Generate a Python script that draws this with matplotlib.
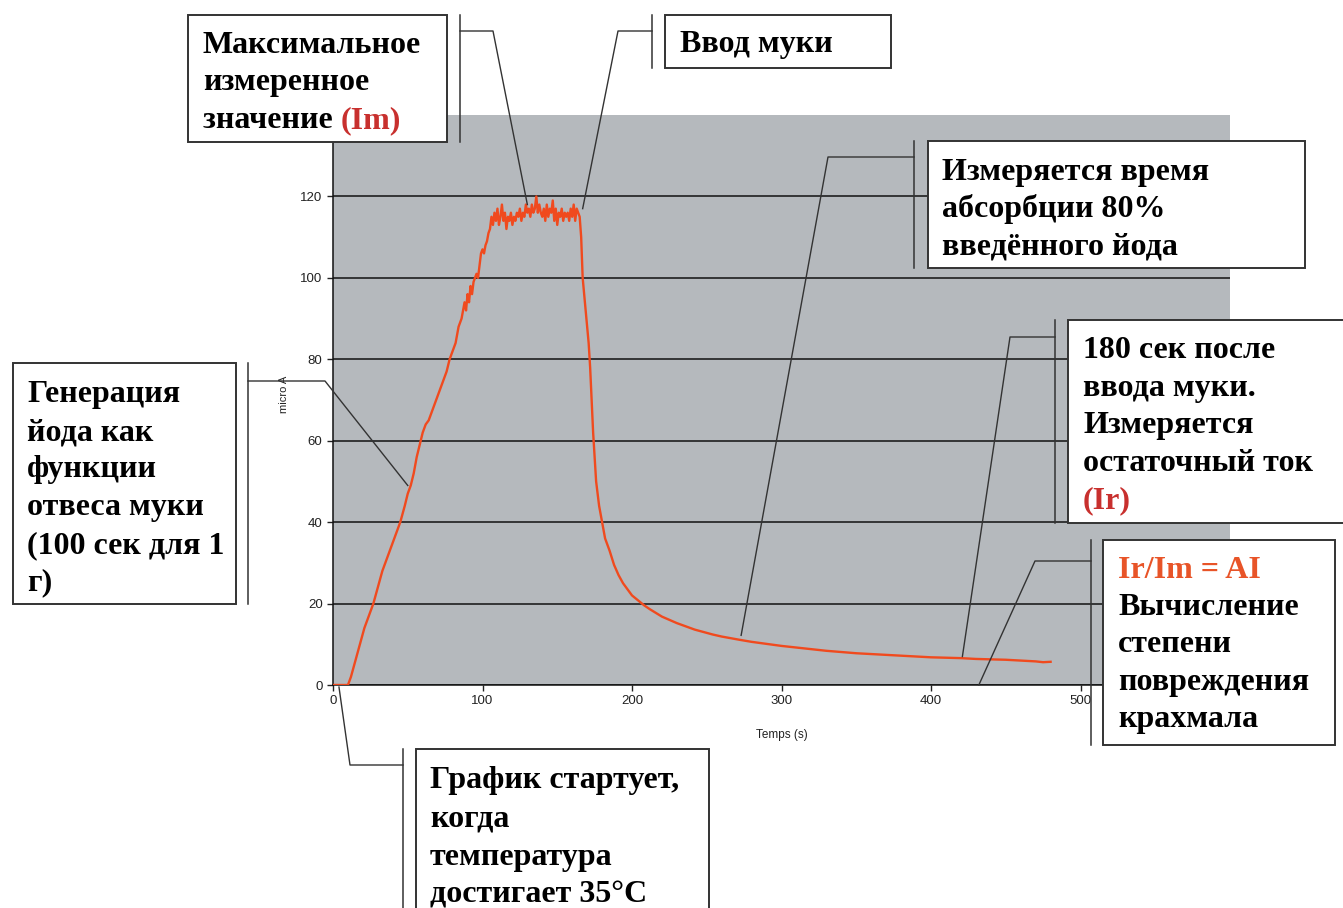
import matplotlib.pyplot as plt
from matplotlib.lines import Line2D
from matplotlib.patches import Rectangle
from matplotlib.text import Annotation

W, H = 1343, 908

# amperometric curve: time (s) / current (micro A)
time_s = [0, 5, 10, 12, 15, 18, 21, 24, 27, 30, 33, 36, 39, 42, 45, 48, 50, 52,
          54, 56, 58, 60, 62, 64, 66, 68, 70, 72, 74, 76, 78, 80, 82, 84, 86, 88,
          89, 90, 91, 92, 93, 94, 96, 97, 98, 99, 100, 101, 102, 103, 104,
          105, 106, 107, 108, 109, 110, 111, 112, 113, 114, 115, 116, 117, 118,
          119, 120, 121, 122, 123, 124, 125, 126, 127, 128, 129, 130, 131, 132,
          133, 134, 135, 136, 137, 138, 139, 140, 141, 142, 143, 144, 145, 146,
          147, 148, 149, 150, 151, 152, 153, 154, 155, 156, 157, 158, 159, 160,
          161, 162, 163, 164, 165,
          166, 167, 169, 171, 172, 173, 174, 175, 176, 178, 180, 182, 185, 188,
          191, 194, 197, 200, 204, 208, 212, 216, 220, 225, 230, 236, 242, 248,
          254, 260, 266, 272, 280, 290, 300, 310, 320, 330, 340, 350, 360, 370,
          380, 390, 400, 410, 420, 430, 440, 450, 460, 470, 475, 480]
current_uA = [0, 0, 0, 2, 6, 10, 14, 17, 20, 24, 28, 31, 34, 37, 40, 44, 47, 49,
              52, 56, 59, 62, 64, 65, 67, 69, 71, 73, 75, 77, 80, 82, 84, 88, 90, 94,
              92, 96, 94, 98, 96, 99, 101, 100, 103, 106, 107, 106, 108, 109, 111,
              112, 115, 113, 116, 114, 117, 113, 115, 118, 114, 116, 112, 115, 114,
              116, 113, 115, 114, 116, 115, 117, 114, 116, 115, 118, 116, 117, 115,
              118, 116, 117, 120, 116, 118, 116, 115, 117, 114, 118, 115, 117, 116,
              119, 114, 117, 113, 116, 115, 117, 114, 116, 115, 116, 114, 117, 115,
              118, 114, 117, 116, 115,
              110, 100, 92, 84, 78, 70, 62, 56, 50, 44, 40, 36, 33, 29.5,
              27, 25, 23.5, 22, 20.8, 19.6, 18.6, 17.7, 16.8, 16, 15.2, 14.4, 13.6, 13,
              12.4, 11.9, 11.5, 11.1, 10.6, 10.1, 9.6, 9.2, 8.8, 8.4, 8.1, 7.8, 7.6, 7.4,
              7.2, 7.0, 6.8, 6.7, 6.6, 6.4, 6.3, 6.2, 6.0, 5.8, 5.6, 5.7]

SERIF = ['Liberation Serif', 'DejaVu Serif']
SANS = ['Liberation Sans', 'DejaVu Sans']
RED = '#c8302e'
ORANGE = '#e85428'
EDGE = '#333333'

fig = plt.figure(figsize=(W / 100, H / 100), dpi=100)
fig.patch.set_facecolor('white')

ax = fig.add_axes([333 / W, 1 - 685 / H, (1230 - 333) / W, (685 - 115) / H])
ax.set_facecolor('#b5b9bd')
ax.plot(time_s, current_uA, color='#f04a1e', lw=1.7, zorder=3)
ax.set_xlim(0, 600)
ax.set_ylim(0, 140)
ax.set_xticks(range(0, 601, 100))
ax.set_yticks(range(0, 121, 20))
ax.yaxis.grid(True, color='#111111', lw=1.1)
ax.set_axisbelow(True)
for s in ['top', 'right']:
    ax.spines[s].set_visible(False)
for s in ['left', 'bottom']:
    ax.spines[s].set_color('#111111')
    ax.spines[s].set_linewidth(1.1)
ax.tick_params(direction='out', length=4, width=1, labelsize=9.5, colors='#222222')
for lab in ax.get_xticklabels() + ax.get_yticklabels():
    lab.set_family(SANS)
ax.set_xlabel('Temps (s)', fontsize=8.5, family=SANS, color='#222222')
ax.xaxis.set_label_coords(0.5, -0.077)
ax.set_ylabel('micro A', fontsize=8, family=SANS, color='#222222')
ax.yaxis.set_label_coords(-0.049, 0.509)


def fx(x):
    return x / W


def fy(y):
    return 1 - y / H


def box(x0, y0, x1, y1):
    fig.add_artist(Rectangle((fx(x0), fy(y1)), (x1 - x0) / W, (y1 - y0) / H,
                             transform=fig.transFigure, fc='white', ec=EDGE,
                             lw=1.4, zorder=5))


def leader(bar_x, bar_y0, bar_y1, elbow, target):
    # vertical bar beside the box, then a bent line to a point on the curve
    fig.add_artist(Line2D([fx(bar_x)] * 2, [fy(bar_y0), fy(bar_y1)],
                          transform=fig.transFigure, color=EDGE, lw=1.1, zorder=6))
    px, py = ax.transData.transform(target)
    xs = [fx(bar_x), fx(elbow[0]), px / W]
    ys = [fy(elbow[1]), fy(elbow[1]), py / H]
    fig.add_artist(Line2D(xs, ys, transform=fig.transFigure, color=EDGE,
                          lw=1.0, zorder=6))


def label(x, baselines, rows, size=23):
    for y, row in zip(baselines, rows):
        prev = None
        for txt, col in row:
            if prev is None:
                prev = fig.text(fx(x), fy(y), txt, color=col, fontsize=size,
                                fontweight='bold', family=SERIF, va='baseline',
                                zorder=7)
            else:
                a = Annotation(txt, xy=(1, 0), xycoords=prev, va='bottom',
                               ha='left', color=col, fontsize=size,
                               fontweight='bold', family=SERIF, zorder=7)
                fig.add_artist(a)
                prev = a


K = 'black'

# maximum measured value
box(188, 15, 447, 142)
leader(460, 15, 142, (493, 31), (130, 118))
label(203, [53, 90, 128],
      [[('Максимальное', K)], [('измеренное', K)],
       [('значение ', K), ('(Im)', RED)]])

# flour input
box(665, 15, 891, 68)
leader(652, 15, 68, (618, 31), (167, 117))
label(680, [52], [[('Ввод муки', K)]])

# 80 % absorption time
box(928, 141, 1305, 268)
leader(914, 141, 268, (828, 157), (273, 12.2))
label(942, [180, 217, 254],
      [[('Измеряется время', K)], [('абсорбции 80%', K)],
       [('введённого йода', K)]])

# residual current
box(1068, 320, 1350, 523)
leader(1055, 320, 523, (1010, 337), (421, 7.0))
label(1083, [358, 396, 433, 471, 508],
      [[('180 сек после', K)], [('ввода муки.', K)], [('Измеряется', K)],
       [('остаточный ток', K)], [('(Ir)', RED)]])

# AI ratio
box(1103, 540, 1335, 745)
leader(1091, 540, 745, (1035, 561), (432, 0))
label(1118, [578, 615, 652, 690, 727],
      [[('Ir/Im = AI', ORANGE)], [('Вычисление', K)], [('степени', K)],
       [('повреждения', K)], [('крахмала', K)]])

# start of the curve
box(416, 749, 709, 915)
leader(403, 749, 915, (350, 765), (4, -0.5))
label(430, [788, 827, 865, 902],
      [[('График стартует,', K)], [('когда', K)], [('температура', K)],
       [('достигает 35°C', K)]])

# iodine generation
box(13, 363, 236, 604)
leader(248, 363, 604, (325, 381), (50, 49))
label(27, [402, 440, 477, 515, 553, 590],
      [[('Генерация', K)], [('йода как', K)], [('функции', K)],
       [('отвеса муки', K)], [('(100 сек для 1', K)], [('г)', K)]])

fig.savefig('out.png', dpi=100)
